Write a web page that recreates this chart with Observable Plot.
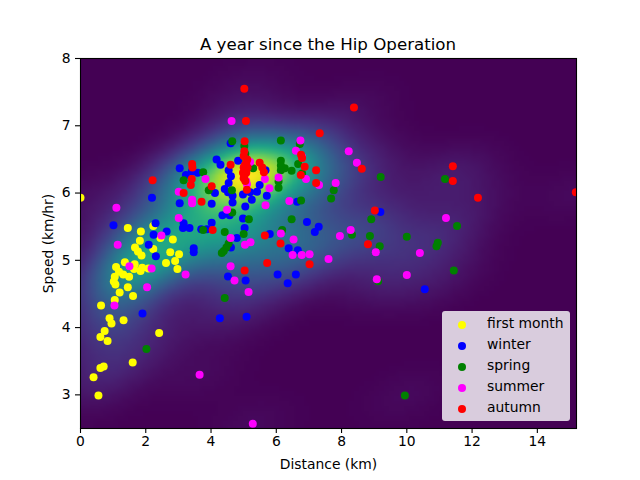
<!DOCTYPE html>
<html><head><meta charset="utf-8">
<script src="https://cdn.jsdelivr.net/npm/d3@7"></script>
<script src="https://cdn.jsdelivr.net/npm/@observablehq/plot@0.6"></script>
<style>
html,body{margin:0;padding:0;background:#fff}
#wrap{position:relative;width:640px;height:480px;font-family:"DejaVu Sans",sans-serif;color:#000}
#title{position:absolute;left:80px;width:496px;top:35px;text-align:center;font-size:16.67px;line-height:20px}
#legend{position:absolute;left:442px;top:311px;width:128px;height:110px;background:rgba(255,255,255,.8);border-radius:3px;font-size:13.89px}
#legend div{position:absolute;left:0;height:21px;line-height:21px;white-space:nowrap}
#legend i{position:absolute;left:16.3px;top:6.5px;width:8px;height:8px;border-radius:50%}
#legend span{position:absolute;left:45px;top:-1px}
svg{display:block}
</style></head><body>
<div id="wrap"><div id="title">A year since the Hip Operation</div></div>
<script>
const titleText = "A year since the Hip Operation";
const xLabel = "Distance (km)";
const yLabel = "Speed (km/hr)";
const xTicks = [0,2,4,6,8,10,12,14];
const yTicks = [3,4,5,6,7,8];
const xDomain = [0,15.2];
const yDomain = [2.5,8];
const seasonNames = ["first month","winter","spring","summer","autumn"];
const seasonColors = ["yellow","blue","green","magenta","red"];

const firstMonth = [[0,5.93],[1.45,5.48],[1.85,5.43],[2.23,5.51],[1.82,5.29],[2.45,5.33],[1.67,5.19],[1.76,5.13],[1.87,5.07],[2.23,5.17],[2.83,5.31],[2.75,5.12],[3.02,5.09],[2.62,4.96],[2.90,4.99],[2.97,4.87],[1.36,4.97],[1.09,4.90],[1.66,4.94],[1.64,4.87],[1.84,4.84],[1.89,4.89],[2.08,4.88],[1.18,4.83],[1.31,4.79],[1.49,4.755],[1.05,4.755],[1.02,4.685],[1.07,4.64],[1.45,4.60],[1.20,4.52],[1.61,4.47],[1.05,4.41],[0.63,4.33],[0.89,4.14],[0.95,4.06],[1.32,4.11],[0.74,3.95],[0.61,3.86],[0.83,3.80],[2.41,3.92],[1.60,3.48],[0.71,3.42],[0.61,3.40],[0.40,3.26],[0.55,2.99]];
const winter = [[4.60,6.74],[4.17,6.50],[4.29,6.42],[4.83,6.48],[3.04,6.37],[3.41,6.32],[3.23,6.27],[3.59,6.30],[4.54,6.34],[4.61,6.25],[4.54,6.15],[4.42,6.06],[4.12,6.00],[4.52,6.01],[4.66,5.96],[4.66,5.86],[4.02,5.84],[3.04,5.85],[2.19,5.93],[4.98,5.98],[5.20,6.01],[5.25,5.90],[5.41,6.02],[5.49,6.12],[5.71,5.96],[5.67,6.34],[5.05,5.80],[4.35,5.67],[4.57,5.67],[4.98,5.62],[4.02,5.56],[5.03,5.48],[3.70,5.46],[3.87,5.46],[3.16,5.55],[3.14,5.48],[3.34,5.48],[2.30,5.55],[2.64,5.43],[2.24,5.38],[2.09,5.23],[1.01,5.52],[3.47,5.18],[3.47,5.12],[4.79,5.33],[4.61,5.19],[2.31,5.06],[4.52,4.76],[5.06,4.70],[6.04,4.79],[6.60,4.79],[6.35,4.66],[6.38,5.18],[6.66,5.15],[1.90,4.21],[4.27,4.14],[5.09,4.16],[5.80,5.39],[6.64,5.87],[6.94,5.57],[7.30,5.50],[7.18,5.42],[9.19,5.72],[10.55,4.57]];
const spring = [[4.65,6.77],[5.02,6.70],[5.05,6.58],[5.08,6.48],[5.29,6.37],[3.76,6.31],[3.16,6.19],[3.93,6.04],[4.64,6.04],[4.65,5.71],[5.16,5.61],[3.76,5.45],[4.42,5.42],[5.0,5.39],[4.54,5.25],[4.47,5.19],[4.39,5.14],[4.33,5.11],[6.14,6.78],[6.72,6.73],[6.14,6.48],[6.14,6.41],[6.14,6.34],[6.26,6.37],[6.47,6.33],[6.67,6.43],[6.07,6.17],[6.07,6.08],[6.76,5.89],[7.76,6.04],[7.68,5.92],[6.79,6.29],[6.47,5.61],[6.18,5.45],[9.20,6.24],[11.17,6.21],[8.91,5.61],[11.54,5.51],[8.87,5.36],[8.32,5.38],[9.17,5.21],[10.0,5.35],[10.95,5.26],[10.91,5.21],[11.44,4.85],[9.12,4.69],[9.94,2.99],[2.02,3.68],[4.42,4.44]];
const summer = [[4.63,7.07],[6.74,6.78],[6.60,6.63],[6.79,6.54],[1.10,5.78],[1.14,5.23],[3.01,6.02],[3.83,6.21],[3.42,5.90],[3.42,5.85],[3.01,5.63],[4.49,5.75],[5.67,5.82],[5.79,6.07],[5.65,6.21],[6.07,6.23],[6.40,5.88],[6.91,6.21],[7.31,6.12],[6.14,5.40],[6.53,5.31],[2.48,5.37],[4.60,5.33],[5.04,5.23],[5.21,5.27],[5.08,6.18],[5.10,6.13],[5.2,6.46],[1.50,4.91],[2.18,4.88],[3.22,4.79],[2.04,4.60],[1.04,4.33],[4.60,4.91],[4.72,4.70],[5.15,4.53],[6.50,5.08],[6.78,5.08],[7.02,5.09],[7.60,5.02],[3.65,3.30],[5.28,2.57],[8.22,6.62],[8.47,6.45],[7.82,6.15],[11.2,5.63],[8.28,5.45],[7.95,5.36],[9.05,5.12],[10.4,5.11],[9.08,4.72],[10.0,4.78]];
const autumn = [[5.02,7.55],[5.07,7.07],[5.03,6.77],[7.33,6.89],[5.02,6.62],[5.0,6.55],[5.11,6.50],[5.08,6.45],[5.03,6.41],[5.0,6.38],[5.12,6.38],[5.05,6.34],[5.08,6.30],[4.98,6.30],[5.02,6.26],[5.0,6.22],[5.05,6.18],[5.10,6.05],[4.60,6.42],[5.49,6.45],[5.57,6.38],[5.62,6.31],[2.21,6.19],[3.42,6.43],[3.43,6.38],[3.41,6.21],[3.38,6.12],[3.16,6.00],[3.71,5.87],[4.02,6.10],[6.76,6.57],[6.79,6.52],[6.87,6.39],[7.22,6.34],[6.75,6.27],[7.22,6.15],[4.05,5.45],[5.65,5.37],[6.13,5.25],[5.72,4.96],[7.02,4.94],[5.03,4.85],[8.38,7.27],[8.62,6.36],[11.41,6.40],[11.41,6.18],[12.18,5.93],[15.18,6.01],[9.02,5.74],[8.81,5.24]];

const seasons = [firstMonth,winter,spring,summer,autumn];
const allPoints = seasons.flat();

// Gaussian kernel density of all the points
const bandwidth = 0.9;
const n = allPoints.length;
const mx = d3.mean(allPoints,d=>d[0]), my = d3.mean(allPoints,d=>d[1]);
let sxx=0,syy=0,sxy=0;
for(const [a,b] of allPoints){sxx+=(a-mx)**2;syy+=(b-my)**2;sxy+=(a-mx)*(b-my);}
sxx/=n-1;syy/=n-1;sxy/=n-1;
const f2 = Math.pow(n,-1/3)*bandwidth*bandwidth;
const det = (sxx*syy-sxy*sxy)*f2*f2;
const kxx = syy/det*f2, kyy = sxx/det*f2, kxy = -sxy/det*f2;
const density = (x,y)=>{let s=0;for(const [a,b] of allPoints){const dx=x-a,dy=y-b;s+=Math.exp(-.5*(kxx*dx*dx+2*kxy*dx*dy+kyy*dy*dy));}return s;};

const chart = Plot.plot({
  width:640,height:480,
  marginLeft:80,marginRight:64,marginTop:58,marginBottom:52,
  style:{background:"#fff",color:"#000",fontFamily:"DejaVu Sans, sans-serif",fontSize:"13.89px"},
  x:{domain:xDomain},
  y:{domain:yDomain},
  color:{type:"linear",scheme:"viridis",legend:false},
  marks:[
    Plot.raster({fill:density,x1:xDomain[0],x2:xDomain[1],y1:yDomain[0],y2:yDomain[1],pixelSize:5,imageRendering:"auto"}),
    ...seasons.map((s,i)=>Plot.dot(s,{x:d=>d[0],y:d=>d[1],r:4,fill:seasonColors[i],stroke:"none",clip:true})),
    Plot.frame({stroke:"#000",strokeWidth:1.1,strokeOpacity:1}),
    Plot.axisX({ticks:xTicks,tickSize:5,tickPadding:3,fontSize:13.89,strokeWidth:1.1,strokeOpacity:1,label:xLabel,labelAnchor:"center",labelArrow:"none",labelOffset:40,tickFormat:d=>String(d)}),
    Plot.axisY({ticks:yTicks,tickSize:5,tickPadding:5,fontSize:13.89,strokeWidth:1.1,strokeOpacity:1,label:yLabel,labelAnchor:"center",labelArrow:"none",labelOffset:37,tickFormat:d=>String(d)})
  ]
});
const wrap=document.getElementById("wrap");
wrap.insertBefore(chart,wrap.firstChild);
document.getElementById("title").textContent=titleText;
const lg=document.createElement("div");lg.id="legend";
seasonNames.forEach((name,i)=>{
  const row=document.createElement("div");row.style.top=(3+i*21)+"px";
  const m=document.createElement("i");m.style.background=seasonColors[i];
  const t=document.createElement("span");t.textContent=name;
  row.append(m,t);lg.append(row);
});
wrap.append(lg);
</script>
</body></html>
